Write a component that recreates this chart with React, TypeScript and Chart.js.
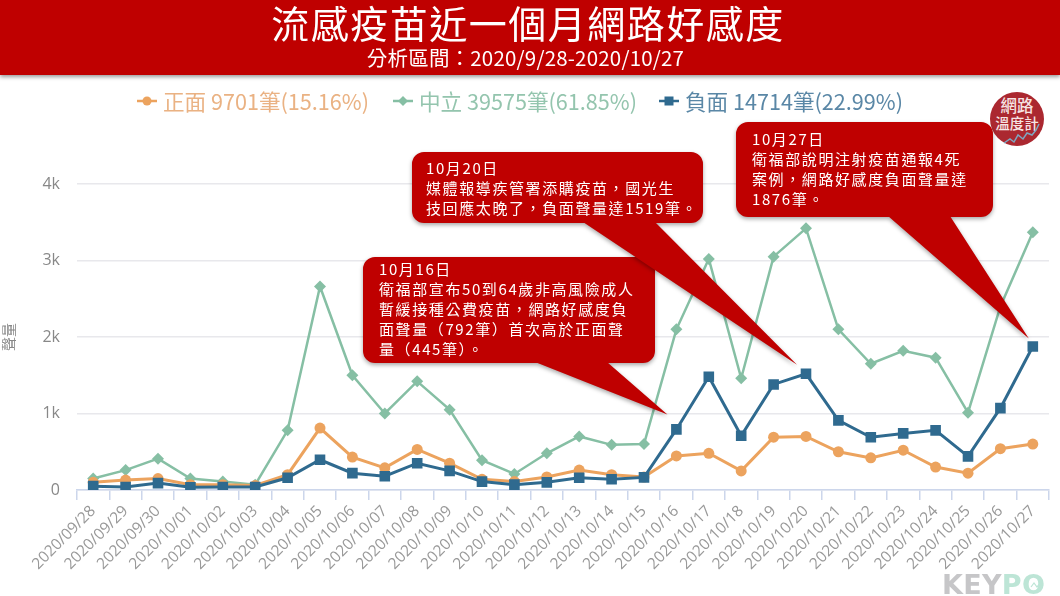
import { useEffect, useRef } from 'react';
import { Chart, registerables } from 'chart.js';

Chart.register(...registerables);

const CJK = '"Noto Sans CJK TC", "Noto Sans", sans-serif';
const RED = '#bf0000';

const days = [
  '2020/09/28', '2020/09/29', '2020/09/30', '2020/10/01', '2020/10/02', '2020/10/03',
  '2020/10/04', '2020/10/05', '2020/10/06', '2020/10/07', '2020/10/08', '2020/10/09',
  '2020/10/10', '2020/10/11', '2020/10/12', '2020/10/13', '2020/10/14', '2020/10/15',
  '2020/10/16', '2020/10/17', '2020/10/18', '2020/10/19', '2020/10/20', '2020/10/21',
  '2020/10/22', '2020/10/23', '2020/10/24', '2020/10/25', '2020/10/26', '2020/10/27',
];
const positive = [100, 130, 150, 70, 70, 60, 200, 810, 430, 290, 530, 350, 140, 110, 170, 260, 200, 170, 445, 480, 250, 690, 700, 500, 420, 520, 300, 220, 540, 600];
const neutral = [150, 260, 410, 150, 110, 70, 780, 2660, 1500, 1000, 1420, 1050, 390, 210, 480, 700, 590, 600, 2100, 3020, 1460, 3050, 3420, 2100, 1650, 1820, 1730, 1010, 2400, 3370];
const negative = [50, 40, 90, 35, 40, 40, 160, 395, 220, 180, 350, 250, 110, 70, 100, 160, 140, 165, 792, 1480, 710, 1380, 1519, 910, 690, 740, 780, 440, 1070, 1876];

const legendItems = [
  { label: '正面 9701筆(15.16%)', color: '#eca35e', text: '#eab283', left: 137, shape: 'circle' },
  { label: '中立 39575筆(61.85%)', color: '#86bfa4', text: '#94c5ae', left: 393, shape: 'diamond' },
  { label: '負面 14714筆(22.99%)', color: '#2f6a8f', text: '#5a87a6', left: 659, shape: 'square' },
];

const callouts = [
  {
    box: [363, 257, 292, 106], tail: [535, 607], day: '2020/10/16', value: 792, tipOffset: [-9, -15], textX: 379, firstLine: 269,
    lines: ['10月16日', '衛福部宣布50到64歲非高風險成人', '暫緩接種公費疫苗，網路好感度負', '面聲量（792筆）首次高於正面聲', '量（445筆）。'],
  },
  {
    box: [412, 152, 291, 71], tail: [583, 655], day: '2020/10/20', value: 1519, tipOffset: [-9, -9], textX: 426, firstLine: 168,
    lines: ['10月20日', '媒體報導疾管署添購疫苗，國光生', '技回應太晚了，負面聲量達1519筆。'],
  },
  {
    box: [736, 122, 257, 95], tail: [888, 950], day: '2020/10/27', value: 1876, tipOffset: [-4, -8], textX: 752, firstLine: 139,
    lines: ['10月27日', '衛福部說明注射疫苗通報4死', '案例，網路好感度負面聲量達', '1876筆。'],
  },
];

const calloutPlugin = {
  id: 'callouts',
  afterDatasetsDraw(chart: Chart) {
    const { ctx, scales } = chart;
    callouts.forEach((c) => {
      const [x, y, w, h] = c.box;
      const tipX = scales.x.getPixelForValue(days.indexOf(c.day)) + c.tipOffset[0];
      const tipY = scales.y.getPixelForValue(c.value) + c.tipOffset[1];
      ctx.save();
      ctx.fillStyle = RED;
      ctx.shadowColor = 'rgba(0,0,0,0.35)';
      ctx.shadowBlur = 4;
      ctx.shadowOffsetY = 2;
      ctx.beginPath();
      ctx.roundRect(x, y, w, h, 12);
      // same winding as the box so the overlap stays filled
      ctx.moveTo(c.tail[1], y + h - 1);
      ctx.lineTo(tipX, tipY);
      ctx.lineTo(c.tail[0], y + h - 1);
      ctx.closePath();
      ctx.fill();
      ctx.restore();
    });
  },
};

function Marker({ shape, color }: { shape: string; color: string }) {
  return (
    <svg width="20" height="12" style={{ display: 'block' }}>
      <line x1="0" y1="6" x2="20" y2="6" stroke={color} strokeWidth="2.5" />
      {shape === 'circle' && <circle cx="10" cy="6" r="4.5" fill={color} />}
      {shape === 'diamond' && <path d="M10 1 L15 6 L10 11 L5 6 Z" fill={color} />}
      {shape === 'square' && <rect x="5.5" y="1.5" width="9" height="9" fill={color} />}
    </svg>
  );
}

export default function App() {
  const canvasRef = useRef<HTMLCanvasElement | null>(null);

  useEffect(() => {
    if (!canvasRef.current) return;

    const chart = new Chart(canvasRef.current, {
      type: 'line',
      data: {
        labels: days,
        datasets: [
          {
            label: '正面', data: positive, borderColor: '#eca35e', backgroundColor: '#eca35e',
            pointStyle: 'circle', pointRadius: 5.5, pointBorderWidth: 0, order: 2,
          },
          {
            label: '中立', data: neutral, borderColor: '#86bfa4', backgroundColor: '#86bfa4',
            pointStyle: 'rectRot', pointRadius: 6, borderWidth: 2.5, pointBorderWidth: 0, order: 3,
          },
          {
            label: '負面', data: negative, borderColor: '#2f6a8f', backgroundColor: '#2f6a8f',
            pointStyle: 'rect', pointRadius: 7.5, pointBorderWidth: 0, order: 1,
          },
        ],
      },
      options: {
        responsive: false,
        animation: false,
        layout: { padding: { top: 184, right: 11, left: 0, bottom: 0 } },
        elements: { line: { borderWidth: 3, tension: 0 } },
        plugins: { legend: { display: false }, tooltip: { enabled: false } },
        scales: {
          x: {
            offset: true,
            afterFit: (s: any) => { s.height = 106; },
            border: { color: '#ccd6eb', width: 1.5 },
            grid: { offset: true, drawOnChartArea: false, drawTicks: true, tickLength: 10, color: '#ccd6eb', lineWidth: 1.5 },
            ticks: {
              autoSkip: false, minRotation: 45, maxRotation: 45, padding: 2,
              color: '#999999', font: { family: '"Open Sans", sans-serif', size: 15.5 },
            },
          },
          y: {
            min: 0,
            max: 4000,
            afterFit: (s: any) => { s.width = 77; },
            border: { display: false },
            grid: { color: '#e8e8ec', lineWidth: 1.5, drawTicks: false },
            title: { display: true, text: '聲量', color: '#888888', font: { family: CJK, size: 14 }, padding: 0 },
            ticks: {
              stepSize: 1000, padding: 17, color: '#888888',
              font: { family: '"Open Sans", sans-serif', size: 16 },
              callback: (v: any) => (v >= 1000 ? `${v / 1000}k` : v),
            },
          },
        },
      } as any,
      plugins: [calloutPlugin],
    });

    return () => chart.destroy();
  }, []);

  return (
    <div lang="zh-Hant" style={{ position: 'fixed', inset: 0, width: 1060, height: 596, overflow: 'hidden', background: '#fff', fontFamily: CJK, filter: 'blur(0.4px)' }}>
      <div style={{ position: 'absolute', left: 990, top: 92, width: 54, height: 54, borderRadius: '50%', background: '#ab2830', color: '#f6e4e4', fontSize: 16.5, fontWeight: 500, lineHeight: '18px', textAlign: 'center', paddingTop: 4, boxSizing: 'border-box' }}>
        <div>網路</div>
        <div style={{ fontSize: 14.5, whiteSpace: 'nowrap' }}>溫度計</div>
        <svg width="54" height="54" style={{ position: 'absolute', left: 0, top: 0 }}>
          <polyline points="14,51 20,47 24,50 28,43 33,47 37,41 42,43 46,38 49,32" fill="none" stroke="#7fa6c0" strokeWidth="1.5" />
        </svg>
      </div>
      <canvas ref={canvasRef} lang="zh-Hant" width={1060} height={596} style={{ position: 'absolute', left: 0, top: 0 }} />
      {callouts.map((c) => (
        <div key={c.day} style={{ position: 'absolute', left: c.textX, top: c.firstLine - 10, color: '#fff', fontSize: 15, lineHeight: '20px', letterSpacing: 1.6, whiteSpace: 'nowrap' }}>
          {c.lines.map((line) => <div key={line}>{line}</div>)}
        </div>
      ))}
      <div style={{ position: 'absolute', left: 0, top: 0, width: 1060, height: 75, background: RED, boxShadow: '0 2px 4px rgba(0,0,0,0.4)', color: '#fff', textAlign: 'center' }}>
        <div style={{ position: 'absolute', left: 0, right: 4, top: -1, fontSize: 38, lineHeight: '46px', letterSpacing: 1.5 }}>流感疫苗近一個月網路好感度</div>
        <div style={{ position: 'absolute', left: 0, right: 9, top: 44, fontSize: 20.5, lineHeight: '26px', letterSpacing: 0.2 }}>分析區間：2020/9/28-2020/10/27</div>
      </div>
      {legendItems.map((item) => (
        <div key={item.label} style={{ position: 'absolute', left: item.left, top: 85.5, height: 30, display: 'flex', alignItems: 'center', whiteSpace: 'nowrap', color: item.text, fontSize: 21.6 }}>
          <Marker shape={item.shape} color={item.color} />
          <span style={{ marginLeft: 6 }}>{item.label}</span>
        </div>
      ))}
      <div style={{ position: 'absolute', left: 942, top: 570, fontFamily: '"DejaVu Sans", sans-serif', fontWeight: 700, fontSize: 27, lineHeight: '30px', letterSpacing: 0.3, whiteSpace: 'nowrap' }}>
        <span style={{ color: '#c6c6c8' }}>KEY</span>
        <span style={{ color: '#bde5d6' }}>PO</span>
      </div>
      <svg width="20" height="12" style={{ position: 'absolute', left: 1027, top: 579 }}>
        <polyline points="4,8 7,4 10,8 13,4 16,7" fill="none" stroke="#bde5d6" strokeWidth="1.2" />
      </svg>
    </div>
  );
}
